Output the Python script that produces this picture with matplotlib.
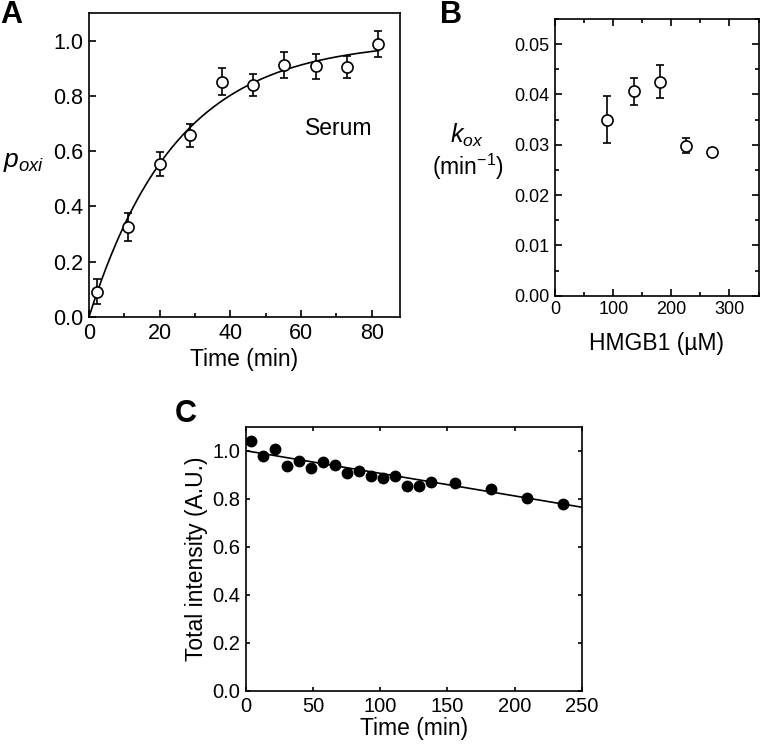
import numpy as np
import matplotlib.pyplot as plt
from matplotlib.ticker import MultipleLocator

plt.rcParams['font.family'] = ['Liberation Sans', 'DejaVu Sans']
plt.rcParams['mathtext.fontset'] = 'custom'
plt.rcParams['mathtext.it'] = 'Liberation Sans:italic'
plt.rcParams['mathtext.rm'] = 'Liberation Sans'

# ---- panel A: oxidation fraction vs time (serum)
a_time = [2.2, 10.9, 20.0, 28.6, 37.6, 46.5, 55.2, 64.2, 73.1, 81.9]
a_poxi = [0.091, 0.325, 0.554, 0.657, 0.852, 0.840, 0.912, 0.907, 0.903, 0.988]
a_err = [0.045, 0.050, 0.042, 0.042, 0.048, 0.040, 0.048, 0.045, 0.040, 0.046]
a_k = 0.0405  # fitted rate (1/min)

# ---- panel B: rate constant vs HMGB1
b_hmgb1 = [89.7, 136, 180.5, 225, 270]
b_kox = [0.0350, 0.0406, 0.0425, 0.0298, 0.0285]
b_err = [0.0047, 0.0026, 0.0033, 0.0015, 0.0008]

# ---- panel C: total intensity vs time
c_time = [4.0, 13.1, 22.1, 30.8, 39.9, 48.9, 57.8, 66.7, 75.6, 84.6,
          93.5, 102.4, 111.4, 120.3, 129.2, 138.1, 155.8, 182.5, 209.6, 236.1]
c_int = [1.042, 0.976, 1.007, 0.936, 0.957, 0.928, 0.953, 0.939, 0.906, 0.917,
         0.896, 0.888, 0.896, 0.853, 0.854, 0.871, 0.864, 0.839, 0.804, 0.778]
c_fit = (1.0, -0.00094)  # intercept, slope

W, H = 760, 745
fig = plt.figure(figsize=(W / 100, H / 100), dpi=100)
lab_fs = 16.5


def style(ax, fs, top=False, right=False):
    for s in ax.spines.values():
        s.set_linewidth(1.2)
    ax.tick_params(which='both', direction='in', top=top, right=right,
                   labelsize=fs, width=1.2, pad=4)
    ax.tick_params(which='major', length=5)
    ax.tick_params(which='minor', length=3)


def px(x, y):
    return x / W, 1 - y / H


ebar = dict(fmt='o', ms=8, mfc='white', mec='black', mew=1.2, ecolor='black',
            elinewidth=1.2, capsize=3, capthick=1.2)

# A
axA = fig.add_axes([89 / W, 1 - 317 / H, (400 - 89) / W, (317 - 13) / H])
t = np.linspace(0, 82, 200)
axA.plot(t, 1 - np.exp(-a_k * t), color='black', lw=1.2)
axA.errorbar(a_time, a_poxi, yerr=a_err, **ebar)
axA.set_xlim(0, 88)
axA.set_ylim(0, 1.1)
axA.xaxis.set_major_locator(MultipleLocator(20))
axA.xaxis.set_minor_locator(MultipleLocator(10))
axA.yaxis.set_major_locator(MultipleLocator(0.2))
axA.yaxis.set_major_formatter(plt.FormatStrFormatter('%.1f'))
style(axA, 15.5)
axA.set_xlabel('Time (min)', fontsize=lab_fs, labelpad=3)
fig.text(*px(3, 162), r'$p_{oxi}$', fontsize=19, va='center', ha='left')
axA.text(0.695, 0.60, 'Serum', transform=axA.transAxes, fontsize=lab_fs,
         ha='left', va='baseline')
fig.text(*px(0, 0), 'A', fontsize=22, fontweight='bold', va='top', ha='left')

# B
axB = fig.add_axes([555.3 / W, 1 - 295.7 / H, (758.5 - 555.3) / W, (295.7 - 19) / H])
axB.errorbar(b_hmgb1, b_kox, yerr=b_err, **ebar)
axB.set_xlim(0, 350)
axB.set_ylim(0, 0.055)
axB.xaxis.set_major_locator(MultipleLocator(100))
axB.xaxis.set_minor_locator(MultipleLocator(50))
axB.yaxis.set_major_locator(MultipleLocator(0.01))
axB.yaxis.set_minor_locator(MultipleLocator(0.005))
axB.yaxis.set_major_formatter(plt.FormatStrFormatter('%.2f'))
style(axB, 13, top=True, right=True)
axB.set_xlabel('HMGB1 (\u00b5M)', fontsize=lab_fs, labelpad=10)
fig.text(*px(467, 135), r'$k_{ox}$', fontsize=18, va='center', ha='center')
fig.text(*px(468, 167), '(min$^{-1}$)', fontsize=lab_fs, va='center', ha='center')
fig.text(*px(440, 0), 'B', fontsize=22, fontweight='bold', va='top', ha='left')

# C
axC = fig.add_axes([245.7 / W, 1 - 691 / H, (581.7 - 245.7) / W, (691 - 426.7) / H])
tc = np.array([0, 250])
axC.plot(tc, c_fit[0] + c_fit[1] * tc, color='black', lw=1.2)
axC.plot(c_time, c_int, 'o', color='black', ms=7.5)
axC.set_xlim(0, 250)
axC.set_ylim(0, 1.1)
axC.xaxis.set_major_locator(MultipleLocator(50))
axC.yaxis.set_major_locator(MultipleLocator(0.2))
axC.yaxis.set_major_formatter(plt.FormatStrFormatter('%.1f'))
style(axC, 14.5, top=True, right=True)
axC.tick_params(which='major', length=3)
axC.set_xlabel('Time (min)', fontsize=lab_fs, labelpad=1)
axC.set_ylabel('Total intensity (A.U.)', fontsize=lab_fs, labelpad=3)
fig.text(*px(175, 399), 'C', fontsize=22, fontweight='bold', va='top', ha='left')

fig.savefig('out.png', dpi=100)
